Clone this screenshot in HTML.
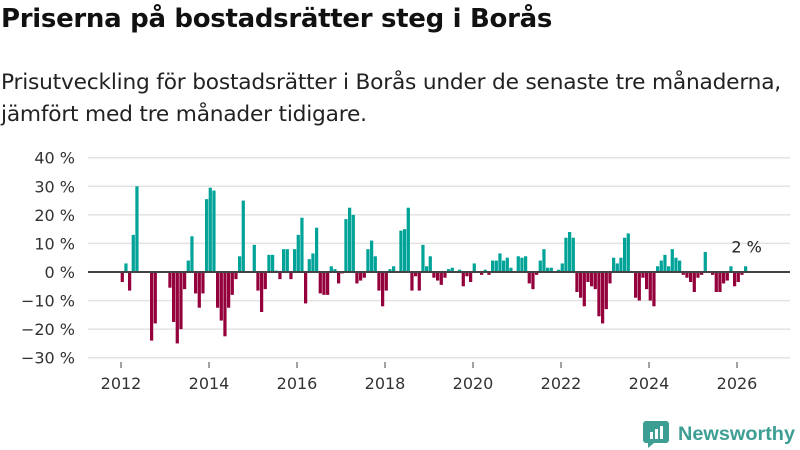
<!DOCTYPE html>
<html><head><meta charset="utf-8">
<style>
body{margin:0;width:800px;height:450px;background:#fff;font-family:"Liberation Sans","DejaVu Sans",sans-serif;overflow:hidden;position:relative}
h1{position:absolute;left:1px;top:4px;margin:0;font-size:26px;font-weight:bold;color:#111;font-family:"DejaVu Sans","Liberation Sans",sans-serif;letter-spacing:-0.3px}
.sub{position:absolute;left:1px;top:67px;margin:0;font-size:21.7px;line-height:32px;color:#222;font-family:"DejaVu Sans","Liberation Sans",sans-serif;letter-spacing:-0.2px;white-space:nowrap}
svg{position:absolute;left:0;top:0}
</style></head><body>
<h1>Priserna på bostadsrätter steg i Borås</h1>
<p class="sub">Prisutveckling för bostadsrätter i Borås under de senaste tre månaderna,<br>jämfört med tre månader tidigare.</p>
<svg id="chart" width="800" height="450"></svg>
<script>
const startYear = 2012;
const values = [-3.5,3,-6.5,13,30,0,0,0,-24,-18,0,0,0,-5.5,-17.5,-25,-20,-6,4,12.5,-7.5,-12.5,-7.5,25.5,29.5,28.5,-12.5,-17,-22.5,-12.5,-8,-2.5,5.5,25,0,0,9.5,-6.5,-14,-6,6,6,0.5,-2.5,8,8,-2.5,8,13,19,-11,4.5,6.5,15.5,-7.5,-8,-8,2,1,-4,-0.5,18.5,22.5,20,-4,-3,-2,8,11,5.5,-6.5,-12,-6.5,1,2,0,14.5,15,22.5,-6.5,-1.5,-6.5,9.5,2,5.5,-2,-3,-4.5,-2,1,1.5,0,0.8,-5,-1.5,-3.5,3,0,-1,0.8,-1,4,4,6.5,4,5,1.5,0,5.5,5,5.5,-4,-6,-1,4,8,1.5,1.5,0,0.8,3,12,14,12,-7,-9,-12,-3.5,-5,-6,-15.5,-18,-13,-4,5,3,5,12,13.5,0,-9,-10,-2,-6,-10,-12,2,4,6,2,8,5,4,-1,-2,-3.5,-7,-2,-1,7,0,-1,-7,-7,-4,-3,2,-5,-3.5,-1,2];
const yTicks = [40,30,20,10,0,-10,-20,-30];
const yTickLabels = ["40 %","30 %","20 %","10 %","0 %","−10 %","−20 %","−30 %"];
const xTicks = [2012,2014,2016,2018,2020,2022,2024,2026];
const lastLabel = "2 %";

const NS="http://www.w3.org/2000/svg";
const svg=document.getElementById('chart');
function y(v){return 272 - v*2.857;}
function xYear(t){return 121 + (t-startYear)*44;}
function xMonth(m){return xYear(startYear + (m+0.35)/12);}
function mk(tag,attrs){const e=document.createElementNS(NS,tag);for(const k in attrs)e.setAttribute(k,attrs[k]);svg.appendChild(e);return e;}

yTicks.forEach((t,i)=>{
  if(t!==0){
    const g=mk('line',{x1:88,x2:790,y1:y(t),y2:y(t),stroke:'#e3e3e3','stroke-width':1.5});
    
    
  }
  const tx=mk('text',{x:75,y:y(t)+6,'text-anchor':'end','font-size':16,fill:'#333','font-family':'"DejaVu Sans","Liberation Sans",sans-serif'});
  tx.textContent=yTickLabels[i];
  
  
});
const bw=44/12*0.88;
values.forEach((v,m)=>{
  if(v===0)return;
  const cx=xMonth(m);
  const r=mk('rect',{x:cx-bw/2,width:bw,y:Math.min(y(v),y(0)),height:Math.abs(y(v)-y(0)),fill:v>0?'#00a398':'#94003c'});
  
  
});
const zl=mk('line',{x1:88,x2:790,y1:272,y2:272,stroke:'#444','stroke-width':2});


xTicks.forEach(t=>{
  const x=xYear(t);
  const tk=mk('line',{x1:x,x2:x,y1:362,y2:368,stroke:'#444','stroke-width':1});
  
  
  const tx=mk('text',{x:x,y:389,'text-anchor':'middle','font-size':16,fill:'#333','font-family':'"DejaVu Sans","Liberation Sans",sans-serif'});
  tx.textContent=String(t);
  
  
});
const lm=values.length-1;
const lbl=mk('text',{x:xMonth(lm)+1,y:y(values[lm])-20+6,'text-anchor':'middle','font-size':16,fill:'#222','font-family':'"DejaVu Sans","Liberation Sans",sans-serif'});
lbl.textContent=lastLabel;


</script>
<svg width="800" height="450" style="pointer-events:none">
  <path d="M646 421 h20 a3 3 0 0 1 3 3 v16 a3 3 0 0 1 -3 3 h-12 l-6 5 v-5 h-2 a3 3 0 0 1 -3 -3 v-16 a3 3 0 0 1 3 -3z" fill="#3d9e94"/>
  <rect x="650" y="432" width="3" height="7" fill="#fff"/>
  <rect x="655" y="429" width="3" height="10" fill="#fff"/>
  <rect x="660" y="426" width="3" height="13" fill="#fff"/>
  <text x="678" y="440" font-size="19" font-weight="bold" fill="#3d9e94" font-family="'Liberation Sans','DejaVu Sans',sans-serif" textLength="117" lengthAdjust="spacingAndGlyphs">Newsworthy</text>
</svg>
</body></html>
